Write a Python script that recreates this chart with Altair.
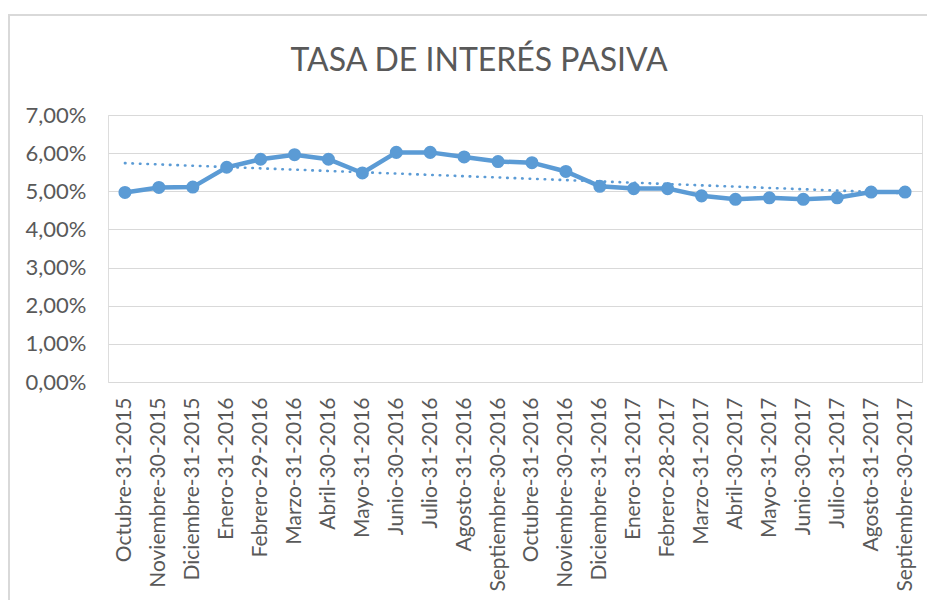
import altair as alt
import pandas as pd

fechas = [
    "Octubre-31-2015", "Noviembre-30-2015", "Diciembre-31-2015",
    "Enero-31-2016", "Febrero-29-2016", "Marzo-31-2016", "Abril-30-2016",
    "Mayo-31-2016", "Junio-30-2016", "Julio-31-2016", "Agosto-31-2016",
    "Septiembre-30-2016", "Octubre-31-2016", "Noviembre-30-2016",
    "Diciembre-31-2016", "Enero-31-2017", "Febrero-28-2017", "Marzo-31-2017",
    "Abril-30-2017", "Mayo-31-2017", "Junio-30-2017", "Julio-31-2017",
    "Agosto-31-2017", "Septiembre-30-2017",
]
tasas = [
    0.0497, 0.0510, 0.0511, 0.0563, 0.0584, 0.0596, 0.0584, 0.0548,
    0.0602, 0.0602, 0.0590, 0.0578, 0.0575, 0.0552, 0.0513, 0.0507,
    0.0507, 0.0488, 0.0479, 0.0483, 0.0479, 0.0483, 0.0498, 0.0498,
]
y_ticks = [0.0, 0.01, 0.02, 0.03, 0.04, 0.05, 0.06, 0.07]

df = pd.DataFrame({"idx": list(range(len(fechas))), "fecha": fechas, "tasa": tasas})

COLOR = "#5b9bd5"
TEXT = "#595959"
GRID = "#d9d9d9"
FONT = "Lato"

labels_js = "[" + ",".join("'" + f + "'" for f in fechas) + "]"

x_enc = alt.X(
    "idx:Q",
    scale=alt.Scale(domain=[-0.5, len(fechas) - 0.5], nice=False, zero=False),
    axis=alt.Axis(
        values=list(range(len(fechas))),
        labelExpr=labels_js + "[datum.value]",
        labelAngle=-90,
        labelAlign="right",
        labelBaseline="middle",
        labelPadding=15,
        labelFontSize=21,
        labelLimit=400,
        labelColor=TEXT,
        labelFont=FONT,
        ticks=False,
        domain=False,
        grid=False,
        title=None,
        labelOverlap=False,
    ),
)
y_enc = alt.Y(
    "tasa:Q",
    scale=alt.Scale(domain=[0, 0.07], nice=False),
    axis=alt.Axis(
        values=y_ticks,
        labelExpr="replace(format(datum.value, '.2%'), '.', ',')",
        labelFontSize=22,
        labelColor=TEXT,
        labelFont=FONT,
        labelPadding=22,
        ticks=False,
        domain=False,
        grid=True,
        gridColor=GRID,
        gridWidth=1.2,
        title=None,
    ),
)

base = alt.Chart(df)

frame = base.mark_rect(fill=None, stroke=GRID, strokeWidth=2, clip=False).encode(
    x=alt.value(-99), x2=alt.value(830), y=alt.value(-100), y2=alt.value(500)
).transform_filter("datum.idx == 0")

line = base.mark_line(
    color=COLOR, strokeWidth=4.5,
    point=alt.OverlayMarkDef(filled=True, size=170, color=COLOR, opacity=1),
).encode(x=x_enc, y=y_enc)

trend = base.transform_regression("idx", "tasa", method="linear").mark_line(
    color=COLOR, strokeWidth=2.6, strokeDash=[0.5, 7], strokeCap="round"
).encode(x=x_enc, y=y_enc)

chart = alt.layer(frame, trend, line).properties(
    width=814,
    height=267,
    title=alt.TitleParams(
        "TASA DE INTERÉS PASIVA",
        font=FONT,
        fontSize=32,
        fontWeight="normal",
        color=TEXT,
        anchor="middle",
        offset=-64,
        dx=-36,
    ),
    autosize=alt.AutoSizeParams(type="none"),
    padding={"left": 100, "top": 107, "right": 5, "bottom": 218},
).configure_view(stroke=None).configure(background="white")

chart.save("out.html", embed_options={"renderer": "svg", "actions": False})
